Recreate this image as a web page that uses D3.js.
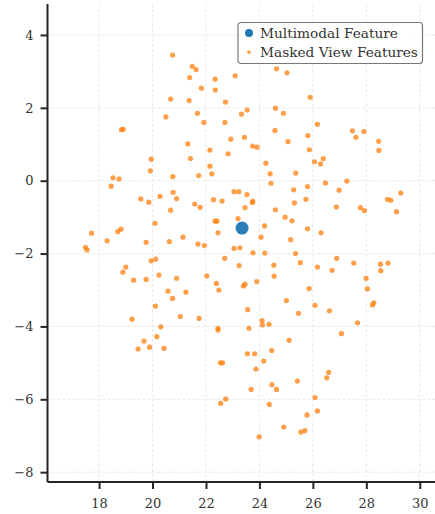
<!DOCTYPE html>
<html>
<head>
<meta charset="utf-8">
<script src="https://cdn.jsdelivr.net/npm/d3@7"></script>
<style>
  body { margin: 0; background: #fff; }
  svg { display: block; font-family: "DejaVu Serif", serif; }
</style>
</head>
<body>
<svg id="chart"></svg>
<script>
// tick values
const xTicks = [18, 20, 22, 24, 26, 28, 30];
const yTicks = [4, 2, 0, -2, -4, -6, -8];

// the one big blue point
const multimodal = [[23.35, -1.30]];

// masked view features (orange)
const maskedX = [
  20.75, 20.68, 20.50, 21.49, 21.63, 21.39, 22.34, 23.09, 21.83, 22.35,
  21.37, 22.73, 21.68, 23.33, 23.54, 21.92, 22.71, 24.64, 25.03, 24.60,
  24.90, 25.90, 26.17, 18.84, 18.90, 19.95, 19.92, 20.76, 18.52, 18.75,
  18.45, 20.77, 20.90, 20.28, 19.56, 19.86, 20.68, 20.09, 18.82, 18.70,
  17.72, 18.30, 19.76, 20.63, 21.32, 22.93, 23.44, 23.75, 23.91, 22.15,
  22.83, 21.42, 22.15, 22.22, 21.73, 24.58, 25.07, 25.81, 25.87, 24.24,
  24.40, 24.43, 25.36, 23.05, 23.23, 23.53, 23.75, 23.74, 22.28, 22.60,
  21.58, 21.78, 23.46, 25.28, 25.80, 25.74, 25.31, 24.60, 23.20, 22.34,
  22.41, 22.45, 24.19, 24.96, 25.22, 25.80, 21.14, 24.06, 25.17, 21.70,
  21.94, 27.48, 27.91, 27.61, 28.46, 28.47, 26.06, 26.39, 26.29, 26.47,
  27.27, 26.98, 29.29, 28.79, 28.92, 26.88, 27.78, 27.93, 29.13, 26.31,
  17.49, 17.55, 19.95, 20.12, 19.00, 18.89, 19.29, 19.76, 20.24, 20.90,
  20.58, 20.75, 20.11, 19.23, 21.04, 20.31, 20.16, 19.68, 19.89, 19.46,
  20.43, 23.05, 23.27, 23.76, 24.20, 25.35, 22.70, 25.53, 23.24, 24.54,
  22.03, 24.55, 22.39, 23.46, 23.40, 23.90, 22.48, 21.25, 25.86, 25.01,
  23.56, 25.46, 21.74, 24.10, 24.11, 24.36, 23.61, 22.45, 22.45, 25.11,
  24.46, 23.55, 23.82, 24.16, 22.54, 22.62, 26.89, 26.17, 26.72, 27.53,
  28.53, 28.81, 28.54, 27.99, 28.04, 26.08, 26.62, 28.28, 28.23, 27.67,
  27.07, 23.87, 24.47, 24.64, 23.69, 25.42, 22.74, 22.55, 24.37, 25.78,
  24.91, 25.55, 25.70, 23.99, 26.59, 26.52, 26.08, 26.17
];
const maskedY = [
  3.45, 2.24, 1.75, 3.14, 3.05, 2.83, 2.79, 2.88, 2.54, 2.49,
  2.20, 2.16, 1.85, 1.83, 1.94, 1.60, 1.60, 3.07, 2.96, 1.99,
  1.85, 2.29, 1.55, 1.40, 1.41, 0.59, 0.27, 0.11, 0.08, 0.05,
  -0.15, -0.32, -0.49, -0.43, -0.50, -0.59, -0.81, -1.17, -1.33, -1.40,
  -1.44, -1.65, -1.69, -1.67, 1.01, 1.14, 1.19, 0.95, 0.92, 0.84,
  0.74, 0.61, 0.40, 0.19, 0.14, 1.38, 1.07, 1.24, 0.85, 0.48,
  0.19, -0.07, 0.21, -0.30, -0.30, -0.38, -0.56, -0.60, -0.52, -0.56,
  -0.64, -0.73, -0.74, -0.25, -0.16, -0.51, -0.61, -0.80, -1.04, -1.11,
  -1.11, -1.43, -1.24, -1.00, -1.10, -1.32, -1.55, -1.55, -1.62, -1.74,
  -1.78, 1.37, 1.35, 1.19, 1.08, 0.83, 0.52, 0.61, 0.46, -0.06,
  -0.01, -0.26, -0.34, -0.51, -0.54, -0.72, -0.74, -0.82, -0.85, -1.43,
  -1.83, -1.90, -2.20, -2.15, -2.37, -2.51, -2.73, -2.71, -2.59, -2.68,
  -3.03, -3.23, -3.44, -3.80, -3.73, -4.01, -4.28, -4.40, -4.57, -4.62,
  -4.60, -1.86, -1.84, -1.98, -1.99, -2.00, -2.13, -2.25, -2.33, -2.32,
  -2.61, -2.62, -2.82, -2.84, -2.89, -2.77, -3.00, -3.06, -2.96, -3.29,
  -3.54, -3.64, -3.78, -3.84, -3.96, -3.94, -4.05, -4.05, -4.10, -4.38,
  -4.66, -4.75, -4.75, -4.95, -5.00, -5.00, -2.13, -2.37, -2.46, -2.26,
  -2.29, -2.26, -2.47, -2.68, -2.97, -3.42, -3.57, -3.35, -3.41, -3.90,
  -4.20, -5.17, -5.60, -5.73, -5.73, -5.50, -5.99, -6.11, -6.14, -6.43,
  -6.76, -6.90, -6.86, -7.03, -5.26, -5.41, -5.95, -6.32
];

const legendLabels = ["Multimodal Feature", "Masked View Features"];

const W = 435, H = 514;
const svg = d3.select("#chart").attr("width", W).attr("height", H);

const x = d3.scaleLinear().domain([16.07, 30.57]).range([47.5, 435]);
const y = d3.scaleLinear().domain([-8.27, 4.85]).range([482, 4]);

// dashed grid
const grid = svg.append("g");
grid.selectAll(".gx").data(xTicks).enter().append("line")
  .attr("x1", d => x(d)).attr("x2", d => x(d))
  .attr("y1", y.range()[1]).attr("y2", y.range()[0])
  .attr("stroke", "#e2e2e2").attr("stroke-width", 0.8)
  .attr("stroke-dasharray", "3,2");
grid.selectAll(".gy").data(yTicks).enter().append("line")
  .attr("x1", x.range()[0]).attr("x2", x.range()[1])
  .attr("y1", d => y(d)).attr("y2", d => y(d))
  .attr("stroke", "#e2e2e2").attr("stroke-width", 0.8)
  .attr("stroke-dasharray", "3,2");

// points
const masked = maskedX.map((v, i) => [v, maskedY[i]]);
svg.append("g").selectAll("circle").data(masked).enter().append("circle")
  .attr("cx", d => x(d[0])).attr("cy", d => y(d[1]))
  .attr("r", 2.6)
  .attr("fill", "#ff7f0e").attr("fill-opacity", 0.75);

svg.append("g").selectAll("circle").data(multimodal).enter().append("circle")
  .attr("cx", d => x(d[0])).attr("cy", d => y(d[1]))
  .attr("r", 6.5)
  .attr("fill", "#1f77b4").attr("fill-opacity", 0.95);

// axes
const fmt = d => d < 0 ? "\u2212" + Math.abs(d) : String(d);
const xAxis = svg.append("g").attr("transform", `translate(0,${y.range()[0]})`)
  .call(d3.axisBottom(x).tickValues(xTicks).tickFormat(fmt).tickSize(7).tickPadding(10).tickSizeOuter(0));
const yAxis = svg.append("g").attr("transform", `translate(${x.range()[0]},0)`)
  .call(d3.axisLeft(y).tickValues(yTicks).tickFormat(fmt).tickSize(7).tickPadding(7).tickSizeOuter(0));

[xAxis, yAxis].forEach(a => {
  a.select(".domain").attr("stroke", "#262626").attr("stroke-width", 2);
  a.selectAll(".tick line").attr("stroke", "#262626").attr("stroke-width", 2);
  a.selectAll(".tick text").attr("fill", "#333").style("font-size", "13px")
    .style("font-family", "'DejaVu Serif', serif");
});
// extend the spines to the full plot area
xAxis.select(".domain").attr("d", `M${x.range()[0]},0H${W}`);
yAxis.select(".domain").attr("d", `M0,${y.range()[1]}V${y.range()[0]}`);

// legend
const lg = svg.append("g").attr("transform", "translate(238,22.5)");
lg.append("rect").attr("width", 184.5).attr("height", 41).attr("rx", 3)
  .attr("fill", "#fff").attr("fill-opacity", 0.85)
  .attr("stroke", "#777").attr("stroke-width", 1.2);
lg.append("circle").attr("cx", 11).attr("cy", 10.5).attr("r", 4).attr("fill", "#1f77b4");
lg.append("circle").attr("cx", 11).attr("cy", 29.8).attr("r", 1.8)
  .attr("fill", "#ff7f0e").attr("fill-opacity", 0.8);
lg.selectAll("text").data(legendLabels).enter().append("text")
  .attr("x", 22).attr("y", (d, i) => 15 + i * 19.3)
  .attr("fill", "#333").style("font-size", "13.7px")
  .text(d => d);
</script>
</body>
</html>
